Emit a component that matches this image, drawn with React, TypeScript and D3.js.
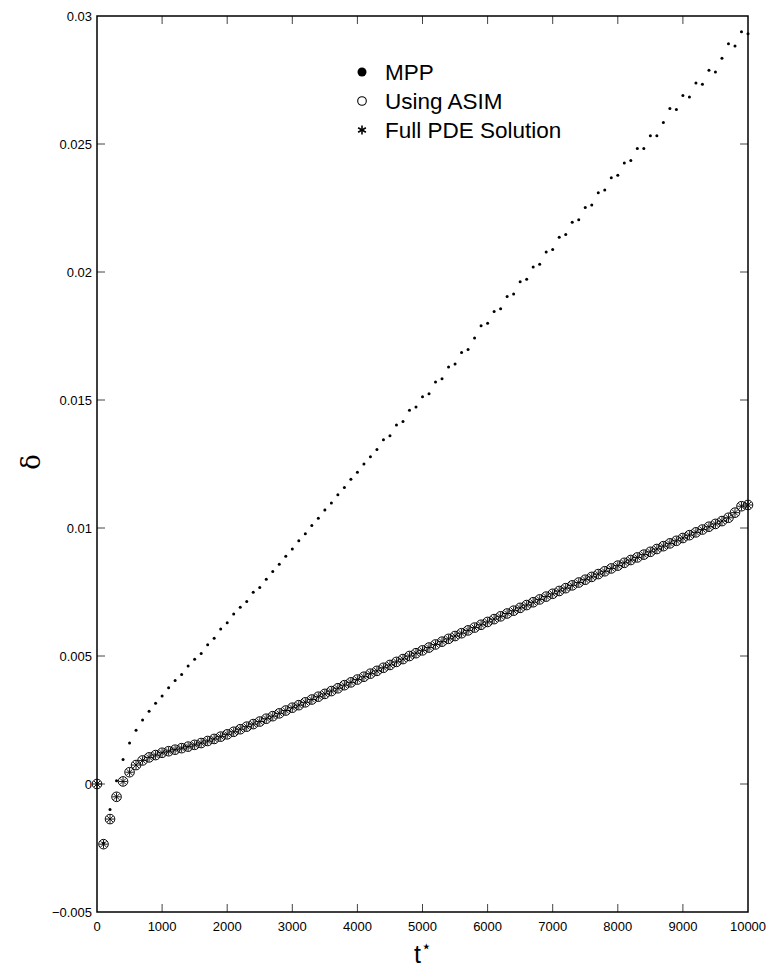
import React from 'react';
import * as d3 from 'd3';

// t* sampled every 100 from 0 to 10000
const tValues = d3.range(0, 10001, 100);

// MPP (small dots, upper curve)
const mppValues = [
  0, -0.0023, -0.001, 0.00013, 0.00096, 0.0016, 0.0021, 0.0025, 0.00284, 0.00315,
  0.00344, 0.00376, 0.00404, 0.00428, 0.00461, 0.00487, 0.0051, 0.00544, 0.00569, 0.00605,
  0.0063, 0.00664, 0.0069, 0.00713, 0.00749, 0.00768, 0.008, 0.0083, 0.00858, 0.0089,
  0.00918, 0.0095, 0.00978, 0.0101, 0.01038, 0.0107, 0.01098, 0.0113, 0.01158, 0.0119,
  0.01218, 0.0125, 0.01278, 0.01307, 0.01345, 0.0136, 0.01402, 0.01416, 0.0146, 0.01473,
  0.01513, 0.01524, 0.0157, 0.01583, 0.01629, 0.01641, 0.01686, 0.01697, 0.01742, 0.0179,
  0.018, 0.01846, 0.01856, 0.01904, 0.01914, 0.01962, 0.01972, 0.0202, 0.0203, 0.02078,
  0.02088, 0.02136, 0.02146, 0.02194, 0.02204, 0.02252, 0.02262, 0.0231, 0.0232, 0.02368,
  0.02378, 0.02426, 0.02436, 0.02482, 0.02482, 0.02532, 0.02532, 0.02584, 0.02639, 0.02635,
  0.02689, 0.02684, 0.02738, 0.02733, 0.02788, 0.02781, 0.02835, 0.02892, 0.02883, 0.02938,
  0.02931,
];

// Using ASIM (open circles, lower curve)
const asimValues = [
  0, -0.00235, -0.00137, -0.0005, 0.0001, 0.00046, 0.00074, 0.00092, 0.00104, 0.00113,
  0.00122, 0.00128, 0.00134, 0.0014, 0.00146, 0.00153, 0.0016, 0.00168, 0.00176, 0.00185,
  0.00194, 0.00204, 0.00214, 0.00224, 0.00234, 0.00244, 0.00255, 0.00265, 0.00276, 0.00287,
  0.00298, 0.00308, 0.00319, 0.0033, 0.00341, 0.00352, 0.00363, 0.00374, 0.00386, 0.00397,
  0.00408, 0.00419, 0.00431, 0.00442, 0.00454, 0.00465, 0.00477, 0.00488, 0.005, 0.00511,
  0.00522, 0.00533, 0.00545, 0.00556, 0.00567, 0.00578, 0.00589, 0.006, 0.00611, 0.00622,
  0.00633, 0.00644, 0.00655, 0.00666, 0.00677, 0.00688, 0.00699, 0.0071, 0.00721, 0.00732,
  0.00743, 0.00754, 0.00765, 0.00776, 0.00787, 0.00798, 0.00809, 0.0082, 0.00831, 0.00842,
  0.00853, 0.00864, 0.00875, 0.00885, 0.00896, 0.00907, 0.00918, 0.00929, 0.0094, 0.0095,
  0.00961, 0.00972, 0.00983, 0.00994, 0.01005, 0.01016, 0.01027, 0.0104, 0.0106, 0.01085,
  0.0109,
];

// Full PDE solution (stars) - sits on the ASIM points
const pdeValues = asimValues.slice();

const xTicks = [0, 1000, 2000, 3000, 4000, 5000, 6000, 7000, 8000, 9000, 10000];
const yTicks = [-0.005, 0, 0.005, 0.01, 0.015, 0.02, 0.025, 0.03];
const legendLabels = ['MPP', 'Using ASIM', 'Full PDE Solution'];

const W = 768;
const H = 974;
const box = { left: 97, right: 748, top: 16, bottom: 912 };
const FONT = '"Liberation Sans", Arial, Helvetica, sans-serif';

const Star = ({ x, y, r, arms = [90, 30, 150], w = 1 }: { x: number; y: number; r: number; arms?: number[]; w?: number }) => (
  <g>
    {arms.map((a) => {
      const dx = r * Math.cos((a * Math.PI) / 180);
      const dy = r * Math.sin((a * Math.PI) / 180);
      return <line key={a} x1={x - dx} y1={y - dy} x2={x + dx} y2={y + dy} stroke="#000" strokeWidth={w} />;
    })}
  </g>
);

export default function App() {
  const x = d3.scaleLinear().domain([0, 10000]).range([box.left, box.right]);
  const y = d3.scaleLinear().domain([-0.005, 0.03]).range([box.bottom, box.top]);
  const tick = 8;
  const fmt = (v: number) => (v < 0 ? '\u2212' + String(Math.abs(v)) : String(v));

  const legendX = 362;
  const legendY = [72, 101, 130];

  return (
    <svg width={W} height={H} style={{ position: 'absolute', left: 0, top: 0, background: '#fff' }} fontFamily={FONT}>
      {/* ticks */}
      {xTicks.slice(1, -1).map((t) => (
        <g key={'xt' + t}>
          <line x1={x(t)} x2={x(t)} y1={box.bottom} y2={box.bottom - tick} stroke="#444" />
          <line x1={x(t)} x2={x(t)} y1={box.top} y2={box.top + tick} stroke="#444" />
        </g>
      ))}
      {yTicks.slice(1, -1).map((v) => (
        <g key={'yt' + v}>
          <line x1={box.left} x2={box.left + tick} y1={y(v)} y2={y(v)} stroke="#444" />
          <line x1={box.right} x2={box.right - tick} y1={y(v)} y2={y(v)} stroke="#444" />
        </g>
      ))}
      {/* tick labels */}
      {xTicks.map((t) => (
        <text key={'xl' + t} x={x(t)} y={box.bottom + 19} fontSize={13} textAnchor="middle" fill="#000">
          {t}
        </text>
      ))}
      {yTicks.map((v) => (
        <text key={'yl' + v} x={box.left - 5} y={y(v) + 4.5} fontSize={13} textAnchor="end" fill="#000">
          {fmt(v)}
        </text>
      ))}

      {/* MPP dots */}
      {mppValues.map((v, i) => (
        <circle key={'m' + i} cx={x(tValues[i])} cy={y(v)} r={1.5} fill="#000" />
      ))}
      {/* ASIM circles */}
      {asimValues.map((v, i) => (
        <circle key={'a' + i} cx={x(tValues[i])} cy={y(v)} r={4.8} fill="none" stroke="#000" strokeWidth={1} />
      ))}
      {/* PDE stars */}
      {pdeValues.map((v, i) => (
        <Star key={'p' + i} x={x(tValues[i])} y={y(v)} r={4.2} arms={[0, 45, 90, 135]} w={0.9} />
      ))}

      {/* frame */}
      <rect
        x={box.left}
        y={box.top}
        width={box.right - box.left}
        height={box.bottom - box.top}
        fill="none"
        stroke="#000"
        strokeWidth={1.5}
      />

      {/* legend */}
      <circle cx={legendX} cy={legendY[0]} r={4.5} fill="#000" />
      <circle cx={legendX} cy={legendY[1]} r={4.3} fill="none" stroke="#000" strokeWidth={1.1} />
      <Star x={legendX} y={legendY[2]} r={4.5} w={1.6} />
      {legendLabels.map((l, i) => (
        <text key={l} x={legendX + 23} y={legendY[i] + 8} fontSize={22.5} fill="#000">
          {l}
        </text>
      ))}

      {/* axis labels */}
      <text x={423} y={963} fontSize={25} textAnchor="middle" fill="#000">
        t<tspan dy={-11} fontSize={17}>{'\u22c6'}</tspan>
      </text>
      <text transform={`translate(40,462) rotate(-90)`} fontSize={26} textAnchor="middle" fill="#000" fontFamily="'DejaVu Serif', serif">
        δ
      </text>
    </svg>
  );
}
